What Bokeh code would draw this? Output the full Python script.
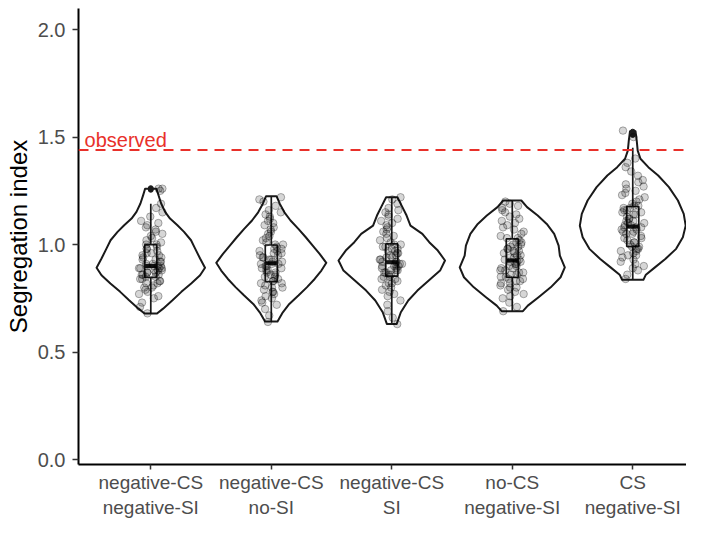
from bokeh.plotting import figure
from bokeh.models import Range1d, FixedTicker, Span, ColumnDataSource, NumeralTickFormatter
from bokeh.transform import jitter
from bokeh.core.properties import value
from bokeh.embed import file_html
from bokeh.resources import INLINE

# ---------------- data ----------------
categories = ["negative-CS\nnegative-SI", "negative-CS\nno-SI", "negative-CS\nSI",
              "no-CS\nnegative-SI", "CS\nnegative-SI"]
observed = 1.44

# simulated segregation index values (read from the jittered points)
g1 = [0.68, 0.71, 0.73, 0.75, 0.76, 0.77, 0.78, 0.79, 0.80, 0.80, 0.81, 0.82, 0.82, 0.83, 0.83, 0.84, 0.84, 0.85,
      0.85, 0.86, 0.86, 0.86, 0.87, 0.87, 0.87, 0.88, 0.88, 0.88, 0.89, 0.89, 0.89, 0.89, 0.90, 0.90, 0.90, 0.90,
      0.91, 0.91, 0.92, 0.92, 0.93, 0.93, 0.94, 0.94, 0.95, 0.95, 0.96, 0.96, 0.97, 0.98, 0.98, 0.99, 1.00, 1.00,
      1.01, 1.02, 1.03, 1.04, 1.05, 1.06, 1.07, 1.08, 1.09, 1.10, 1.11, 1.13, 1.15, 1.17, 1.19, 1.25, 1.26, 1.26]
g2 = [0.64, 0.67, 0.70, 0.72, 0.73, 0.74, 0.75, 0.76, 0.77, 0.78, 0.78, 0.79, 0.80, 0.80, 0.81, 0.82, 0.82, 0.83,
      0.83, 0.84, 0.85, 0.85, 0.86, 0.86, 0.87, 0.87, 0.88, 0.88, 0.89, 0.89, 0.90, 0.90, 0.91, 0.91, 0.91, 0.92,
      0.92, 0.93, 0.93, 0.94, 0.94, 0.95, 0.95, 0.96, 0.96, 0.97, 0.97, 0.98, 0.98, 0.99, 1.00, 1.00, 1.01, 1.02,
      1.03, 1.04, 1.05, 1.06, 1.07, 1.08, 1.09, 1.10, 1.11, 1.12, 1.13, 1.14, 1.15, 1.16, 1.18, 1.20, 1.21, 1.22]
g3 = [0.63, 0.66, 0.69, 0.72, 0.74, 0.76, 0.77, 0.78, 0.79, 0.80, 0.81, 0.82, 0.82, 0.83, 0.84, 0.84, 0.85, 0.85,
      0.86, 0.86, 0.87, 0.87, 0.88, 0.88, 0.88, 0.89, 0.89, 0.90, 0.90, 0.90, 0.91, 0.91, 0.91, 0.92, 0.92, 0.92,
      0.93, 0.93, 0.94, 0.94, 0.95, 0.95, 0.96, 0.96, 0.97, 0.97, 0.98, 0.98, 0.99, 0.99, 1.00, 1.00, 1.01, 1.02,
      1.03, 1.04, 1.05, 1.06, 1.07, 1.08, 1.09, 1.10, 1.11, 1.12, 1.13, 1.14, 1.15, 1.16, 1.17, 1.19, 1.21, 1.22]
g4 = [0.69, 0.71, 0.73, 0.75, 0.76, 0.77, 0.78, 0.79, 0.80, 0.80, 0.81, 0.82, 0.82, 0.83, 0.83, 0.84, 0.84, 0.85,
      0.85, 0.86, 0.86, 0.87, 0.87, 0.88, 0.88, 0.89, 0.89, 0.90, 0.90, 0.91, 0.91, 0.92, 0.92, 0.92, 0.93, 0.93,
      0.94, 0.94, 0.95, 0.95, 0.96, 0.96, 0.97, 0.97, 0.98, 0.98, 0.99, 0.99, 1.00, 1.00, 1.01, 1.01, 1.02, 1.03,
      1.03, 1.04, 1.05, 1.06, 1.07, 1.08, 1.09, 1.10, 1.11, 1.12, 1.13, 1.14, 1.15, 1.16, 1.17, 1.18, 1.19, 1.20]
g5 = [0.84, 0.86, 0.88, 0.89, 0.90, 0.91, 0.92, 0.93, 0.94, 0.95, 0.95, 0.96, 0.97, 0.97, 0.98, 0.98, 0.99, 0.99,
      1.00, 1.01, 1.01, 1.02, 1.03, 1.03, 1.04, 1.05, 1.05, 1.06, 1.06, 1.07, 1.07, 1.08, 1.08, 1.08, 1.09, 1.09,
      1.10, 1.10, 1.11, 1.11, 1.12, 1.12, 1.13, 1.14, 1.14, 1.15, 1.15, 1.16, 1.16, 1.17, 1.17, 1.18, 1.18, 1.19,
      1.20, 1.21, 1.22, 1.23, 1.24, 1.25, 1.26, 1.27, 1.28, 1.29, 1.30, 1.32, 1.34, 1.36, 1.38, 1.40, 1.50, 1.53]
groups = [g1, g2, g3, g4, g5]

# violin density profiles (value, relative density), top to bottom
v1_y = [1.260, 1.229, 1.191, 1.152, 1.121, 1.090, 1.059, 1.020, 0.981, 0.935, 0.892, 0.857, 0.819, 0.780, 0.741, 0.702, 0.679]
v1_d = [0.105, 0.142, 0.191, 0.264, 0.355, 0.491, 0.613, 0.742, 0.818, 0.909, 1.000, 0.909, 0.745, 0.564, 0.400, 0.227, 0.115]
v2_y = [1.225, 1.189, 1.150, 1.112, 1.073, 1.034, 0.995, 0.957, 0.915, 0.879, 0.840, 0.801, 0.763, 0.724, 0.685, 0.642]
v2_d = [0.096, 0.158, 0.242, 0.355, 0.500, 0.636, 0.764, 0.891, 1.015, 0.924, 0.800, 0.655, 0.500, 0.333, 0.213, 0.115]
v3_y = [1.220, 1.181, 1.135, 1.088, 1.050, 1.011, 0.972, 0.926, 0.879, 0.833, 0.786, 0.740, 0.685, 0.631]
v3_d = [0.104, 0.182, 0.273, 0.345, 0.564, 0.691, 0.849, 0.982, 0.891, 0.682, 0.473, 0.304, 0.167, 0.091]
v4_y = [1.205, 1.174, 1.135, 1.096, 1.050, 0.995, 0.949, 0.894, 0.848, 0.801, 0.755, 0.716, 0.690]
v4_d = [0.167, 0.273, 0.469, 0.636, 0.773, 0.855, 0.878, 0.969, 0.891, 0.709, 0.485, 0.287, 0.196]
v5_y = [1.527, 1.484, 1.437, 1.399, 1.360, 1.321, 1.267, 1.205, 1.143, 1.088, 1.034, 0.980, 0.933, 0.894, 0.860, 0.836]
v5_d = [0.051, 0.073, 0.091, 0.142, 0.287, 0.469, 0.667, 0.833, 0.940, 0.976, 0.924, 0.800, 0.600, 0.409, 0.242, 0.196]
violin_y = [v1_y, v2_y, v3_y, v4_y, v5_y]
violin_d = [v1_d, v2_d, v3_d, v4_d, v5_d]

# boxplot statistics
q1 = [0.847, 0.828, 0.853, 0.848, 0.991]
med = [0.900, 0.913, 0.918, 0.926, 1.084]
q3 = [1.000, 0.998, 1.003, 1.026, 1.177]
wlo = [0.680, 0.642, 0.631, 0.690, 0.836]
whi = [1.190, 1.225, 1.220, 1.205, 1.450]
out_group = [1, 1, 5, 5]
out_val = [1.255, 1.262, 1.510, 1.525]

# ---------------- figure ----------------
FONT = "Liberation Sans"
VW = 0.45   # violin half width (category units)
BW = 0.05   # box half width

p = figure(width=686, height=522, output_backend="svg", toolbar_location=None,
           x_range=Range1d(0.4, 5.446), y_range=Range1d(-0.023, 2.098),
           min_border_left=78, min_border_right=0, min_border_top=8, min_border_bottom=58)
p.outline_line_color = None
p.grid.visible = False
p.background_fill_color = "white"

pos = list(range(1, len(categories) + 1))

# violins
xs, ys = [], []
for c, vy, vd in zip(pos, violin_y, violin_d):
    left_x = [c - VW * d for d in reversed(vd)]
    left_y = list(reversed(vy))
    right_x = [c + VW * d for d in vd]
    right_y = list(vy)
    xs.append(left_x + right_x)
    ys.append(left_y + right_y)
p.patches(xs=xs, ys=ys, fill_color="white", line_color="#1a1a1a", line_width=2, line_join="round")

# whiskers + boxes
p.segment(x0=pos, y0=wlo, x1=pos, y1=whi, line_color="#1a1a1a", line_width=1.7)
p.quad(left=[c - BW for c in pos], right=[c + BW for c in pos], bottom=q1, top=q3,
       fill_color="white", line_color="#1a1a1a", line_width=1.7)
p.segment(x0=[c - BW for c in pos], y0=med, x1=[c + BW for c in pos], y1=med,
          line_color="#1a1a1a", line_width=4)
p.scatter(x=out_group, y=out_val, size=5, color="#1a1a1a")

# jittered points
px, py = [], []
for c, g in zip(pos, groups):
    px += [c] * len(g)
    py += g
src = ColumnDataSource(dict(x=px, y=py))
p.scatter(x=jitter("x", width=0.2), y="y", source=src, size=7.5,
          fill_color="black", fill_alpha=0.16, line_color="black", line_alpha=0.3, line_width=1)

# observed line and label
p.add_layout(Span(location=observed, dimension="width", line_color="#E8302A",
                  line_dash="10 7", line_width=2))
p.text(x=[0.45], y=[observed], text=["observed"], text_font=value(FONT), text_font_size="20px",
       text_color="#E8302A", text_baseline="alphabetic", text_align="left", y_offset=-10)

# axes
for ax in (p.xaxis[0], p.yaxis[0]):
    ax.axis_line_color = "black"
    ax.axis_line_width = 2
    ax.major_tick_line_color = "#333333"
    ax.major_tick_line_width = 1.5
    ax.major_tick_in = 0
    ax.minor_tick_line_color = None
    ax.major_label_text_font = FONT
    ax.major_label_text_color = "#4D4D4D"

p.xaxis.ticker = FixedTicker(ticks=pos)
p.xaxis.major_label_overrides = {c: lab for c, lab in zip(pos, categories)}
p.xaxis.major_tick_out = 5
p.xaxis.major_label_standoff = 2
p.xaxis.major_label_text_font_size = "19px"

p.yaxis.ticker = FixedTicker(ticks=[0, 0.5, 1.0, 1.5, 2.0])
p.yaxis.formatter = NumeralTickFormatter(format="0.0")
p.yaxis.major_tick_out = 6
p.yaxis.major_label_standoff = 7
p.yaxis.major_label_text_font_size = "20px"
p.yaxis.axis_label = "Segregation index"
p.yaxis.axis_label_text_font = FONT
p.yaxis.axis_label_text_font_size = "24px"
p.yaxis.axis_label_text_font_style = "normal"
p.yaxis.axis_label_text_color = "black"
p.yaxis.axis_label_standoff = 3

open("out.html", "w").write(file_html(p, INLINE))
